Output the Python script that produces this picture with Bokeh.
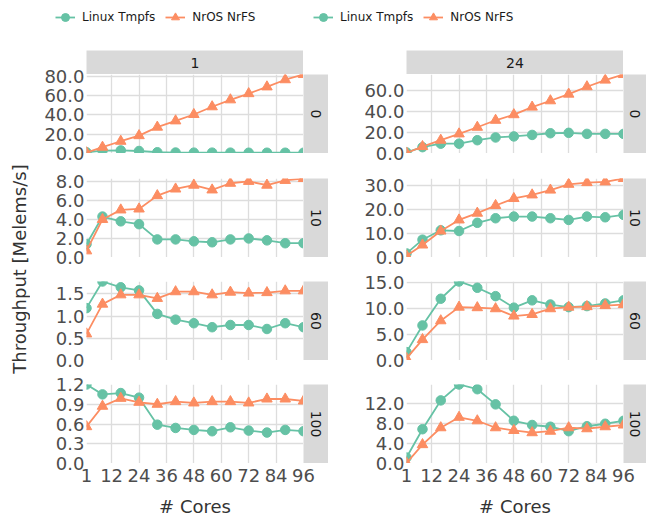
import math
from bokeh.plotting import figure
from bokeh.layouts import column, row
from bokeh.models import (Range1d, FixedTicker, PrintfTickFormatter, Label,
                          Legend, LegendItem, Spacer, Title)
from bokeh.embed import file_html
from bokeh.resources import INLINE

# ---------------- data ----------------
cores = [1, 8, 16, 24, 32, 40, 48, 56, 64, 72, 80, 88, 96]
x_ticks = [1, 12, 24, 36, 48, 60, 72, 84, 96]
col_labels = ["1", "24"]
row_labels = ["0", "10", "60", "100"]
series_names = ["Linux Tmpfs", "NrOS NrFS"]

linux_c1_r0 = [1.2, 3.0, 3.2, 2.6, 1.3, 1.0, 0.9, 0.9, 0.9, 0.8, 0.8, 0.8, 0.8]
nros_c1_r0 = [0.9, 6.5, 12.7, 18.5, 27.3, 33.8, 40.4, 48.4, 55.6, 62.0, 69.0, 76.4, 81.8]
linux_c1_r10 = [1.4, 4.3, 3.8, 3.5, 1.9, 1.9, 1.7, 1.6, 1.9, 2.0, 1.8, 1.5, 1.5]
nros_c1_r10 = [0.7, 4.0, 5.0, 5.1, 6.5, 7.2, 7.6, 7.1, 7.8, 8.0, 7.6, 8.1, 8.3]
linux_c1_r60 = [1.18, 1.78, 1.65, 1.58, 1.05, 0.92, 0.84, 0.75, 0.80, 0.80, 0.71, 0.84, 0.75]
nros_c1_r60 = [0.60, 1.27, 1.48, 1.48, 1.40, 1.55, 1.55, 1.48, 1.54, 1.52, 1.53, 1.57, 1.57]
linux_c1_r100 = [1.20, 1.05, 1.07, 1.00, 0.59, 0.54, 0.51, 0.49, 0.55, 0.50, 0.47, 0.51, 0.49]
nros_c1_r100 = [0.56, 0.87, 0.99, 0.93, 0.90, 0.94, 0.92, 0.94, 0.94, 0.92, 0.98, 0.98, 0.95]

linux_c24_r0 = [1.0, 6.0, 9.3, 9.3, 12.6, 15.2, 16.2, 17.6, 19.2, 19.6, 18.6, 18.6, 18.6]
nros_c24_r0 = [0.5, 6.6, 12.6, 18.6, 24.9, 31.5, 36.8, 44.0, 50.0, 56.3, 63.3, 69.6, 74.9]
linux_c24_r10 = [1.7, 7.4, 11.3, 11.0, 14.4, 16.3, 17.0, 17.0, 16.3, 15.6, 17.0, 16.7, 17.7]
nros_c24_r10 = [0.7, 5.2, 11.0, 15.6, 18.4, 21.6, 24.5, 26.0, 28.0, 30.4, 31.1, 31.4, 32.8]
linux_c24_r60 = [1.6, 6.7, 11.8, 15.1, 13.9, 12.3, 10.1, 11.5, 10.7, 10.2, 10.4, 10.9, 11.5]
nros_c24_r60 = [0.4, 4.0, 7.6, 10.2, 10.1, 9.9, 8.5, 8.8, 9.9, 10.2, 10.3, 10.5, 10.7]
linux_c24_r100 = [1.2, 6.9, 12.7, 15.9, 14.95, 11.9, 8.6, 7.75, 7.4, 6.5, 7.5, 8.0, 8.6]
nros_c24_r100 = [0.1, 3.8, 7.2, 9.3, 8.6, 7.2, 6.65, 6.2, 6.5, 7.2, 7.0, 7.4, 7.75]

y_ticks_c1 = [[0, 20, 40, 60, 80], [0, 2, 4, 6, 8], [0, 0.5, 1.0, 1.5], [0, 0.3, 0.6, 0.9, 1.2]]
y_ticks_c24 = [[0, 20, 40, 60], [0, 10, 20, 30], [0, 5, 10, 15], [0, 4, 8, 12]]

linux_cols = [[linux_c1_r0, linux_c1_r10, linux_c1_r60, linux_c1_r100],
              [linux_c24_r0, linux_c24_r10, linux_c24_r60, linux_c24_r100]]
nros_cols = [[nros_c1_r0, nros_c1_r10, nros_c1_r60, nros_c1_r100],
             [nros_c24_r0, nros_c24_r10, nros_c24_r60, nros_c24_r100]]
yticks_cols = [y_ticks_c1, y_ticks_c24]

# ---------------- style / layout ----------------
FONT = "DejaVu Sans"
GREEN, ORANGE = "#66c2a5", "#fc8d62"
STRIP_FILL = "#d9d9d9"
GRID = "#dddddd"
TICK_COLOR = "#4d4d4d"
LABEL_COLOR = "#333333"
TICK_FS = "18px"
LABEL_FS = "18px"
FW, FH, STRIP = 217, 79, 24
GAPS = [25, 24, 24]
LEG_H, XH, YLW = 50, 53, 30
T_PAD, B_LAST = 12, 12
LBS = [56, 78]
RSS = [25, 23]


def base_fig(**kw):
    kw.setdefault("min_border_left", 0)
    kw.setdefault("min_border_right", 0)
    kw.setdefault("min_border_top", 0)
    kw.setdefault("min_border_bottom", 0)
    return figure(toolbar_location=None, output_backend="svg", title=None,
                  outline_line_color=None, **kw)


def strip_fig(w, h, text, angle=0.0):
    p = base_fig(width=w, height=h, x_range=Range1d(0, 1), y_range=Range1d(0, 1),
                 x_axis_location=None, y_axis_location=None,
                 background_fill_color=STRIP_FILL)
    p.grid.visible = False
    p.add_layout(Label(x=0.5, y=0.5, text=text, angle=angle, text_align="center",
                       text_baseline="middle", text_font=FONT, text_font_size="14px",
                       text_color="#1a1a1a"))
    return p


def panel_fig(lin, nro, yt):
    ymax = max(max(lin), max(nro))
    p = base_fig(width=FW, height=FH, x_range=Range1d(1, 96), y_range=Range1d(0, ymax),
                 x_axis_location=None, y_axis_location=None)
    p.xgrid.ticker = FixedTicker(ticks=x_ticks)
    p.ygrid.ticker = FixedTicker(ticks=yt)
    p.grid.grid_line_color = GRID
    p.grid.grid_line_width = 1.3
    p.line(cores, lin, line_color=GREEN, line_width=1.8)
    p.scatter(cores, lin, marker="circle", size=9.5, fill_color=GREEN, line_color=GREEN)
    p.line(cores, nro, line_color=ORANGE, line_width=1.8)
    p.scatter(cores, nro, marker="triangle", size=10.5, fill_color=ORANGE, line_color=ORANGE)
    return p


def style_ticks(ax):
    ax.axis_line_color = None
    ax.major_tick_line_color = None
    ax.minor_tick_line_color = None
    ax.major_tick_out = 0
    ax.major_tick_in = 0
    ax.minor_tick_out = 0
    ax.minor_tick_in = 0
    ax.major_label_text_font = FONT
    ax.major_label_text_font_size = TICK_FS
    ax.major_label_text_color = TICK_COLOR


def yaxis_fig(lb, lin, nro, yt, top, bottom):
    ymax = max(max(lin), max(nro))
    p = base_fig(width=lb, height=top + FH + bottom, x_range=Range1d(0, 1),
                 y_range=Range1d(0, ymax), x_axis_location=None, y_axis_location="left",
                 min_border_left=lb - 1, min_border_top=top, min_border_bottom=bottom)
    p.grid.visible = False
    ax = p.yaxis[0]
    ax.ticker = FixedTicker(ticks=yt)
    ax.formatter = PrintfTickFormatter(format="%.1f")
    style_ticks(ax)
    ax.major_label_standoff = 1
    return p


def xaxis_fig(lb, rs):
    p = base_fig(width=lb + FW + rs, height=XH, x_range=Range1d(1, 96),
                 y_range=Range1d(0, 1), x_axis_location="below", y_axis_location=None,
                 min_border_left=lb, min_border_right=rs, min_border_bottom=XH - 1,
                 border_fill_alpha=0, background_fill_alpha=0,
                 margin=(-B_LAST, 0, 0, 0))
    p.grid.visible = False
    ax = p.xaxis[0]
    ax.ticker = FixedTicker(ticks=x_ticks)
    style_ticks(ax)
    ax.major_label_standoff = 5
    ax.axis_label = "# Cores"
    ax.axis_label_standoff = 11
    ax.axis_label_text_font = FONT
    ax.axis_label_text_font_size = LABEL_FS
    ax.axis_label_text_font_style = "normal"
    ax.axis_label_text_color = LABEL_COLOR
    return p


blocks = []
for c in range(2):
    lb, rs = LBS[c], RSS[c]
    yax_children = [Spacer(width=lb, height=STRIP - T_PAD)]
    frame_children = [strip_fig(FW, STRIP, col_labels[c])]
    for r in range(4):
        lin, nro, yt = linux_cols[c][r], nros_cols[c][r], yticks_cols[c][r]
        bottom = B_LAST if r == 3 else GAPS[r] - T_PAD
        yax_children.append(yaxis_fig(lb, lin, nro, yt, T_PAD, bottom))
        frame_children.append(row(panel_fig(lin, nro, yt),
                                  strip_fig(rs, FH, row_labels[r], -math.pi / 2)))
        if r < 3:
            frame_children.append(Spacer(width=FW + rs, height=GAPS[r]))
    frame_children.append(Spacer(width=FW + rs, height=B_LAST))
    block = column(row(column(*yax_children), column(*frame_children)), xaxis_fig(lb, rs))
    blocks.append(block)

grid_h = 4 * FH + sum(GAPS)
block_h = STRIP + grid_h + XH
ylab = base_fig(width=YLW, height=block_h, x_range=Range1d(0, 1), y_range=Range1d(0, 1),
                x_axis_location=None, y_axis_location=None, min_border_left=YLW - 1,
                min_border_top=STRIP, min_border_bottom=block_h - STRIP - grid_h)
ylab.grid.visible = False
ylab.add_layout(Title(text="Throughput [Melems/s]", align="center", standoff=0,
                      text_font=FONT, text_font_size=LABEL_FS, text_font_style="normal",
                      text_color=LABEL_COLOR), "left")

# legend strip at the top (its renderers lie outside its visible range)
total_w = YLW + sum(LBS) + 2 * FW + sum(RSS)
leg = base_fig(width=total_w, height=LEG_H, x_range=Range1d(-2, -1), y_range=Range1d(-2, -1),
               x_axis_location=None, y_axis_location=None)
leg.grid.visible = False
l1 = leg.line(cores, linux_c1_r0, line_color=GREEN, line_width=1.8)
s1 = leg.scatter(cores, linux_c1_r0, marker="circle", size=8, fill_color=GREEN, line_color=GREEN)
l2 = leg.line(cores, nros_c1_r0, line_color=ORANGE, line_width=1.8)
s2 = leg.scatter(cores, nros_c1_r0, marker="triangle", size=8, fill_color=ORANGE, line_color=ORANGE)
for lx in [55, 313]:
    lg = Legend(items=[LegendItem(label=series_names[0], renderers=[l1, s1]),
                       LegendItem(label=series_names[1], renderers=[l2, s2])],
                location=(lx, LEG_H - 27), orientation="horizontal", glyph_width=20,
                glyph_height=20, label_height=20, label_standoff=7, spacing=10,
                padding=0, margin=0, border_line_alpha=0, background_fill_alpha=0,
                label_text_font=FONT, label_text_font_size="12px",
                label_text_color="#1a1a1a")
    leg.add_layout(lg, "center")

root = column(leg, row(ylab, blocks[0], blocks[1]))

with open("out.html", "w") as f:
    f.write(file_html(root, INLINE))
